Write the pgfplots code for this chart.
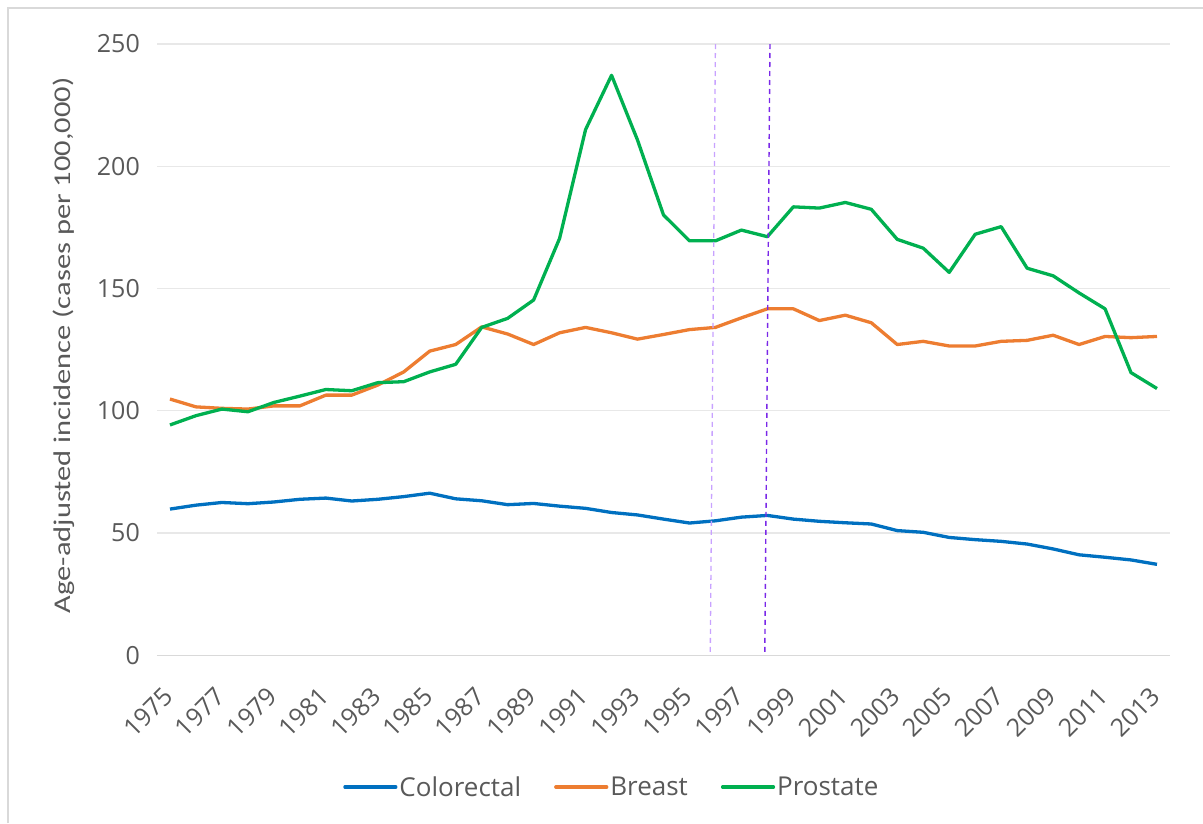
\documentclass[border=0pt]{standalone}
\usepackage{pgfplots}
\pgfplotsset{compat=1.18}
\usepackage{pgfplotstable}
\usepackage{graphicx}
\usepackage{fontspec}
\setmainfont{Open Sans}
\newfontfamily\labelfont{Carlito}
\definecolor{cBlue}{HTML}{0070C0}
\definecolor{cOrange}{HTML}{ED7D31}
\definecolor{cGreen}{HTML}{00B050}
\definecolor{txt}{HTML}{595959}
\definecolor{gridc}{HTML}{E8E8E8}
\definecolor{axisc}{HTML}{D9D9D9}
\definecolor{lav}{HTML}{C8A2FF}
\definecolor{purp}{HTML}{7A28E8}

\pgfplotstableread{
year val
1975 59.8
1976 61.4
1977 62.5
1978 62.0
1979 62.7
1980 63.8
1981 64.3
1982 63.1
1983 63.8
1984 64.9
1985 66.3
1986 64.0
1987 63.2
1988 61.6
1989 62.1
1990 61.0
1991 60.1
1992 58.4
1993 57.4
1994 55.7
1995 54.1
1996 55.0
1997 56.5
1998 57.2
1999 55.7
2000 54.8
2001 54.2
2002 53.7
2003 51.0
2004 50.3
2005 48.2
2006 47.3
2007 46.6
2008 45.5
2009 43.5
2010 41.1
2011 40.1
2012 39.0
2013 37.2
}\colorectal

\pgfplotstableread{
year val
1975 104.8
1976 101.6
1977 101.0
1978 100.7
1979 102.0
1980 102.0
1981 106.4
1982 106.4
1983 110.5
1984 115.9
1985 124.4
1986 127.1
1987 134.3
1988 131.4
1989 127.1
1990 131.9
1991 134.1
1992 131.9
1993 129.3
1994 131.2
1995 133.2
1996 134.1
1997 138.0
1998 141.7
1999 141.7
2000 136.9
2001 139.1
2002 136.0
2003 127.1
2004 128.4
2005 126.5
2006 126.5
2007 128.4
2008 128.8
2009 130.9
2010 127.1
2011 130.4
2012 129.9
2013 130.4
}\breast

\pgfplotstableread{
year val
1975 94.2
1976 98.0
1977 100.7
1978 99.6
1979 103.4
1980 106.0
1981 108.7
1982 108.2
1983 111.5
1984 111.9
1985 115.9
1986 119.0
1987 134.1
1988 137.8
1989 145.3
1990 170.5
1991 215.0
1992 237.2
1993 210.7
1994 180.1
1995 169.5
1996 169.5
1997 173.9
1998 171.2
1999 183.4
2000 182.9
2001 185.2
2002 182.4
2003 170.1
2004 166.5
2005 156.6
2006 172.2
2007 175.3
2008 158.3
2009 155.2
2010 148.2
2011 141.7
2012 115.6
2013 109.1
}\prostate

\begin{document}
\begin{tikzpicture}
\useasboundingbox (-157pt,-167.7pt) rectangle (1046pt,655.3pt);
\draw[axisc, line width=1.5pt] (-149pt,-167.7pt) -- (-149pt,647.3pt) -- (1046pt,647.3pt);
\begin{axis}[
  at={(0pt,0pt)}, anchor=south west,
  scale only axis, width=1013pt, height=611.3pt,
  xmin=1974.5, xmax=2013.5, ymin=0, ymax=250,
  axis line style={draw=none},
  tick style={draw=none},
  major tick length=0pt,
  ymajorgrids, grid style={gridc, line width=1.2pt},
  ytick={0,50,100,150,200,250},
  xtick={1975,1977,...,2013},
  /pgf/number format/1000 sep={},
  /pgf/number format/assume math mode=true,
  yticklabel style={font=\fontsize{25}{25}\selectfont, text=txt, inner sep=0pt, xshift=-17pt},
  xticklabel style={font=\fontsize{25}{25}\selectfont, text=txt, xshift=-1pt, yshift=-36pt, rotate=45, anchor=east, inner sep=1pt},
  ylabel={\scalebox{1.27}[1]{Age-adjusted incidence (cases per 100,000)}},
  every axis y label/.style={at={(rel axis cs:-0.0918,0.507)}, rotate=90, anchor=center,
     font=\labelfont\fontsize{24}{24}\selectfont, text=txt},
  legend style={at={(rel axis cs:0.449,-0.2155)}, anchor=center, draw=none, fill=none,
     font=\fontsize{26}{26}\selectfont, text=txt, legend columns=3,
     /tikz/every even column/.append style={column sep=31pt}},
  legend image code/.code={\draw[#1, line width=3.2pt, line cap=round] (0pt,0pt) -- (51pt,0pt);},
]
\draw[axisc, line width=1.6pt] (rel axis cs:0,0) -- (rel axis cs:1,0);
\addplot[cBlue, line width=3.3pt, line join=round] table[x=year,y=val] {\colorectal};
\addlegendentry{Colorectal}
\addplot[cOrange, line width=3.3pt, line join=round] table[x=year,y=val] {\breast};
\addlegendentry{Breast}
\addplot[cGreen, line width=3.3pt, line join=round] table[x=year,y=val] {\prostate};
\addlegendentry{Prostate}
\addplot[lav, line width=1.3pt, dash pattern=on 5pt off 4pt, forget plot] coordinates {(1996,250) (1995.8,0)};
\addplot[purp, line width=1.4pt, dash pattern=on 5pt off 4pt, forget plot] coordinates {(1998.1,250) (1997.9,0)};
\end{axis}
\end{tikzpicture}
\end{document}
